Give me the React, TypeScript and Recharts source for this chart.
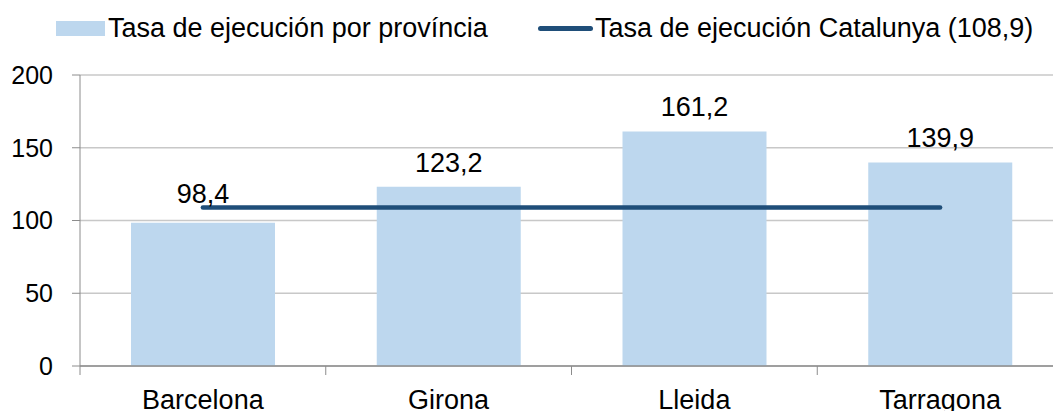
import React from "react";
import { ComposedChart, Bar, Line, XAxis, YAxis, CartesianGrid, LabelList } from "recharts";

const provinces = ["Barcelona", "Girona", "Lleida", "Tarragona"];
const provinceRates = [98.4, 123.2, 161.2, 139.9];
const catalunyaRate = [108.9, 108.9, 108.9, 108.9];
const yTicks = [0, 50, 100, 150, 200];

const data = provinces.map((name, i) => ({
  name,
  provincia: provinceRates[i],
  catalunya: catalunyaRate[i],
}));

const FONT = '"Liberation Sans", Arial, sans-serif';
const BAR = "#BDD7EE";
const LINE = "#1F4E79";
const AXIS = "#8C8C8C";
const GRID = "#C8C8C8";

const W = 1075;
const H = 411;
const MARGIN = { top: 75, right: 12, bottom: 0, left: 0 };
const Y_WIDTH = 80;
const HALF_BAND = (W - MARGIN.left - MARGIN.right - Y_WIDTH) / provinces.length / 2;

const fmt = (v: number) => v.toFixed(1).replace(".", ",");

function CategoryTick(props: any) {
  const { x, y, payload } = props;
  return (
    <g>
      <line x1={x - HALF_BAND} x2={x - HALF_BAND} y1={y} y2={y + 9} stroke={AXIS} strokeWidth={1} />
      <text x={x} y={y + 43} textAnchor="middle" fontSize={27} fontFamily={FONT} fill="#000">
        {payload.value}
      </text>
    </g>
  );
}

function BarLabel(props: any) {
  const { x, y, width, height, value, index } = props;
  const avg = catalunyaRate[index];
  const perUnit = value ? height / value : 0;
  const lineY = y - (avg - value) * perUnit;
  const baseline = Math.min(y - 15, lineY - 5);
  return (
    <text x={x + width / 2} y={baseline} textAnchor="middle" fontSize={27} fontFamily={FONT} fill="#000">
      {fmt(value)}
    </text>
  );
}

export default function App() {
  return (
    <div
      style={{
        position: "absolute",
        left: 0,
        top: 0,
        width: 1053,
        height: 411,
        overflow: "hidden",
        background: "#fff",
        fontFamily: FONT,
      }}
    >
      <ComposedChart width={W} height={H} data={data} margin={MARGIN}>
        <CartesianGrid vertical={false} stroke={GRID} strokeWidth={1.5} />
        <XAxis
          dataKey="name"
          height={45}
          tickSize={0}
          tickMargin={0}
          tickLine={false}
          axisLine={{ stroke: AXIS, strokeWidth: 1.5 }}
          tick={<CategoryTick />}
          interval={0}
        />
        <YAxis
          width={Y_WIDTH}
          domain={[0, 200]}
          ticks={yTicks}
          tickSize={8}
          tickMargin={19}
          axisLine={{ stroke: AXIS, strokeWidth: 1 }}
          tickLine={{ stroke: AXIS, strokeWidth: 1 }}
          tick={{ fontSize: 25, fill: "#000", fontFamily: FONT }}
        />
        <Bar dataKey="provincia" fill={BAR} barSize={144} isAnimationActive={false}>
          <LabelList dataKey="provincia" content={<BarLabel />} />
        </Bar>
        <Line
          dataKey="catalunya"
          stroke={LINE}
          strokeWidth={4.5}
          strokeLinecap="round"
          dot={false}
          activeDot={false}
          isAnimationActive={false}
        />
      </ComposedChart>

      <div style={{ position: "absolute", left: 56, top: 21, width: 49, height: 15, background: BAR }} />
      <div
        style={{
          position: "absolute",
          left: 108,
          top: 28,
          transform: "translateY(-50%)",
          fontSize: 27,
          lineHeight: "30px",
          color: "#000",
          whiteSpace: "nowrap",
        }}
      >
        Tasa de ejecución por província
      </div>
      <div
        style={{
          position: "absolute",
          left: 538,
          top: 26,
          width: 55,
          height: 5,
          borderRadius: 3,
          background: LINE,
        }}
      />
      <div
        style={{
          position: "absolute",
          left: 595,
          top: 28,
          transform: "translateY(-50%)",
          fontSize: 27,
          lineHeight: "30px",
          color: "#000",
          whiteSpace: "nowrap",
        }}
      >
        Tasa de ejecución Catalunya (108,9)
      </div>
    </div>
  );
}
